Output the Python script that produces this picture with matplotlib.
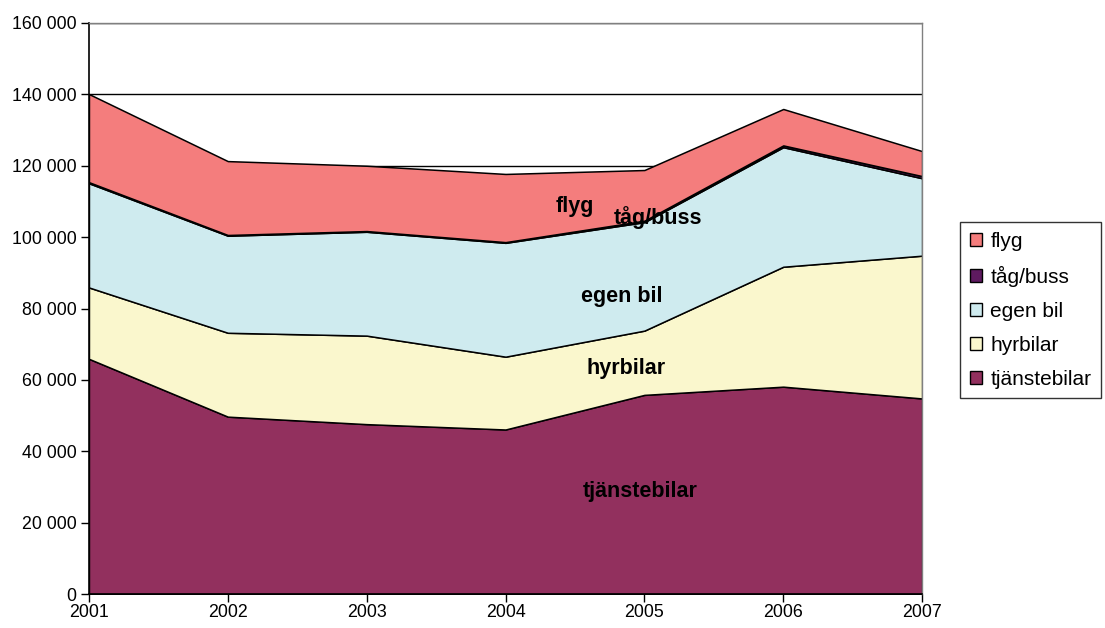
import matplotlib.pyplot as plt
from matplotlib.patches import Patch
from matplotlib.ticker import FuncFormatter

plt.rcParams["font.family"] = ["Liberation Sans", "DejaVu Sans"]

years = [2001, 2002, 2003, 2004, 2005, 2006, 2007]
tjanstebilar = [65900, 49700, 47600, 46100, 55800, 58100, 54800]
hyrbilar = [20000, 23500, 24800, 20400, 18000, 33600, 40000]
egen_bil = [29200, 27200, 29100, 31900, 30400, 33500, 21700]
tag_buss = [300, 200, 200, 200, 400, 500, 600]
flyg = [24700, 20700, 18300, 19100, 14200, 10200, 7000]

series = ["tjänstebilar", "hyrbilar", "egen bil", "tåg/buss", "flyg"]
colors = ["#92305E", "#FAF7CD", "#CFEBEF", "#5E1A60", "#F47D7D"]

fig = plt.figure(figsize=(11.05, 6.28), dpi=100)
ax = fig.add_axes([0.0805, 0.0541, 0.754, 0.9093])

for yv in range(20000, 160001, 20000):
    ax.axhline(yv, color="black", lw=1.0, zorder=0)

ax.stackplot(years, tjanstebilar, hyrbilar, egen_bil, tag_buss, flyg,
             colors=colors, edgecolor="black", linewidth=1.1, zorder=1)

ax.set_xlim(2001, 2007)
ax.set_ylim(0, 160000)
ax.set_xticks(years)
ax.set_yticks(range(0, 160001, 20000))
ax.yaxis.set_major_formatter(FuncFormatter(lambda v, p: f"{int(v):,}".replace(",", " ")))
ax.tick_params(axis="both", labelsize=12.8, length=6, width=1, direction="out", color="black")
ax.tick_params(axis="y", pad=3)
ax.tick_params(axis="x", pad=1)

for side in ["left", "bottom"]:
    ax.spines[side].set_color("black")
    ax.spines[side].set_linewidth(1.2)
for side in ["top", "right"]:
    ax.spines[side].set_color("#808080")
    ax.spines[side].set_linewidth(1.0)

lbl = dict(fontsize=15.5, fontweight="bold", ha="center", va="center", color="black", zorder=3)
ax.text(2004.5, 108700, "flyg", **lbl)
ax.text(2005.1, 105400, "tåg/buss", **lbl)
ax.text(2004.84, 83500, "egen bil", **lbl)
ax.text(2004.87, 63300, "hyrbilar", **lbl)
ax.text(2004.97, 28600, "tjänstebilar", **lbl)

handles = [Patch(facecolor=c, edgecolor="black", linewidth=1.0, label=s)
           for s, c in zip(series, colors)]
leg = fig.legend(handles=handles[::-1], loc="upper left", bbox_to_anchor=(0.869, 0.646),
                 fontsize=15, frameon=True, fancybox=False, handlelength=0.6,
                 handleheight=0.6, handletextpad=0.4, labelspacing=0.72,
                 borderpad=0.45, borderaxespad=0)
leg.get_frame().set_edgecolor("black")
leg.get_frame().set_linewidth(1.0)

fig.savefig("out.png", dpi=100)
